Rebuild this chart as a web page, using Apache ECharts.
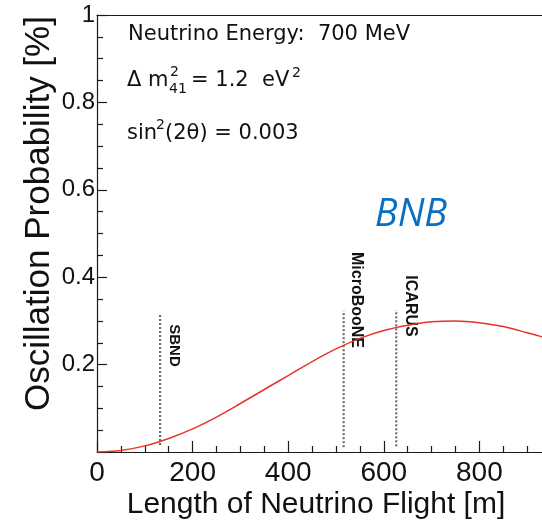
<!DOCTYPE html>
<html><head><meta charset="utf-8">
<script src="https://cdn.jsdelivr.net/npm/echarts@6/dist/echarts.min.js"></script>
<style>html,body{margin:0;padding:0;background:#fff}#c{width:542px;height:525px}</style>
</head><body><div id="c"></div>
<script>
// ---- data ----
const lengthM = [0, 50, 100, 150, 200, 250, 300, 350, 400, 450, 500, 550, 600, 650, 700, 750, 800, 850, 900, 930, 950];
const probability = [0, 0.0035, 0.014, 0.031, 0.053, 0.080, 0.111, 0.143, 0.175, 0.207, 0.236, 0.260, 0.278, 0.290, 0.298, 0.300, 0.296, 0.287, 0.273, 0.264, 0.257];
const detectorNames = ['SBND', 'MicroBooNE', 'ICARUS'];
const detectorL = [132, 516, 626];
const detectorTop = [0.318, 0.323, 0.325];
const detectorBottom = [0.016, 0.011, 0.013];
const xTickValues = [0, 200, 400, 600, 800];
const xTickLabels = ['0', '200', '400', '600', '800'];
const yTickValues = [0.2, 0.4, 0.6, 0.8, 1];
const yTickLabels = ['0.2', '0.4', '0.6', '0.8', '1'];

// ---- styles ----
const AX = '#1a1a1a';
const SANS = 'Liberation Sans, Arial, Helvetica, sans-serif';
const ANN = 'DejaVu Sans, sans-serif';

const chart = echarts.init(document.getElementById('c'), null, {renderer: 'canvas'});

function lab(vals, labels, v) {
  const i = vals.findIndex(t => Math.abs(t - v) < 1e-6);
  return i >= 0 ? labels[i] : '';
}

const series = [{
  type: 'line',
  name: 'P',
  data: lengthM.map((l, i) => [l, probability[i]]),
  showSymbol: false,
  smooth: 0.3,
  lineStyle: {color: '#e8332c', width: 1.5},
  z: 5
}];
detectorNames.forEach((n, i) => {
  series.push({
    type: 'line',
    name: n,
    data: [[detectorL[i], detectorBottom[i]], [detectorL[i], detectorTop[i]]],
    showSymbol: false,
    lineStyle: {color: '#6b6b6b', width: 2.2, type: [2, 2]},
    z: 3
  });
});

const tsty = {fill: '#111', font: '21px ' + ANN, verticalAlign: 'middle'};
const sup = {fill: '#111', font: '14px ' + ANN, verticalAlign: 'middle'};

chart.setOption({
  animation: false,
  backgroundColor: '#fff',
  grid: {left: 97, right: -33, top: 15, bottom: 73, containLabel: false, outerBoundsMode: 'none'},
  xAxis: [{
    type: 'value', min: 0, max: 1000, interval: 200, position: 'bottom',
    axisLine: {show: true, onZero: false, lineStyle: {color: AX, width: 1.2}},
    axisTick: {show: true, inside: true, length: 11, lineStyle: {color: AX, width: 1.2}},
    minorTick: {show: true, splitNumber: 4, length: 6, lineStyle: {color: AX, width: 1.2}},
    splitLine: {show: false},
    axisLabel: {fontSize: 28, color: '#111', margin: 7, fontFamily: SANS,
      formatter: v => lab(xTickValues, xTickLabels, v)},
    name: 'Length of Neutrino Flight [m]', nameLocation: 'middle', nameGap: 38,
    nameMoveOverlap: false,
    nameTextStyle: {fontSize: 30, color: '#111', fontFamily: SANS, padding: [0, 40, 0, 0]}
  }, {
    type: 'value', min: 0, max: 1000, position: 'top',
    axisLine: {show: true, onZero: false, lineStyle: {color: AX, width: 1.2}},
    axisTick: {show: false}, axisLabel: {show: false}, splitLine: {show: false}
  }],
  yAxis: {
    type: 'value', min: 0, max: 1, interval: 0.2,
    axisLine: {show: true, onZero: false, lineStyle: {color: AX, width: 1.2}},
    axisTick: {show: true, inside: true, length: 10, lineStyle: {color: AX, width: 1.2}},
    minorTick: {show: true, splitNumber: 4, length: 6, lineStyle: {color: AX, width: 1.2}},
    splitLine: {show: false},
    axisLabel: {fontSize: 24, color: '#111', margin: 2, fontFamily: SANS,
      formatter: v => lab(yTickValues, yTickLabels, v)},
    name: 'Oscillation Probability [%]', nameLocation: 'middle', nameGap: 40,
    nameMoveOverlap: false,
    nameTextStyle: {fontSize: 35, color: '#111', fontFamily: SANS, padding: [0, 0, 0, 40]}
  },
  series: series,
  graphic: [
    {type: 'text', x: 128, y: 35, style: Object.assign({text: 'Neutrino Energy:  700 MeV'}, tsty)},
    {type: 'text', x: 127, y: 81, style: Object.assign({text: 'Δ m'}, tsty)},
    {type: 'text', x: 170, y: 72, style: Object.assign({text: '2'}, sup)},
    {type: 'text', x: 169, y: 89, style: Object.assign({text: '41'}, sup)},
    {type: 'text', x: 191, y: 81, style: Object.assign({text: '= 1.2  eV'}, tsty)},
    {type: 'text', x: 292, y: 73, style: Object.assign({text: '2'}, sup)},
    {type: 'text', x: 127, y: 134, style: Object.assign({text: 'sin'}, tsty)},
    {type: 'text', x: 156, y: 125, style: Object.assign({text: '2'}, sup)},
    {type: 'text', x: 165, y: 134, style: Object.assign({text: '(2θ) = 0.003'}, tsty)},
    {type: 'text', x: 411, y: 215, style: {text: 'BNB', fill: '#0a6fc2', font: 'italic 38px "Open Sans", sans-serif', align: 'center', verticalAlign: 'middle'}},
    {type: 'text', x: 174.5, y: 345.5, rotation: -Math.PI / 2, style: {text: detectorNames[0], fill: '#111', font: 'bold 15px ' + SANS, align: 'center', verticalAlign: 'middle'}},
    {type: 'text', x: 356.5, y: 300, rotation: -Math.PI / 2, style: {text: detectorNames[1], fill: '#111', font: 'bold 16px ' + SANS, align: 'center', verticalAlign: 'middle'}},
    {type: 'text', x: 410, y: 306, rotation: -Math.PI / 2, style: {text: detectorNames[2], fill: '#111', font: 'bold 16px ' + SANS, align: 'center', verticalAlign: 'middle'}}
  ]
});
</script>
</body></html>
